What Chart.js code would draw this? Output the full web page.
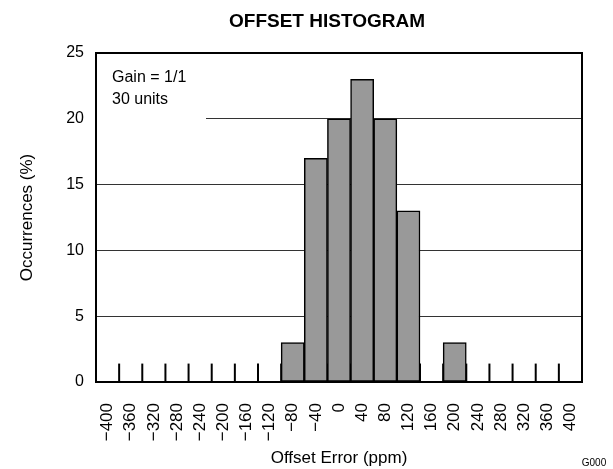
<!DOCTYPE html>
<html lang="en">

<head>
  <meta charset="UTF-8">
  <title>Offset Histogram</title>

  <!-- Chart.js for rendering the histogram -->
  <script src="https://cdn.jsdelivr.net/npm/chart.js"></script>

  <style>
    body {
      margin: 0;
      background: #fff;
    }

    canvas {
      display: block;
    }
  </style>
</head>

<body>
  <canvas id="histChart" width="613" height="469"></canvas>

  <script>
    // Bins (ppm) and occurrences (%)
    const offsetBins = ['−400', '−360', '−320', '−280', '−240', '−200', '−160', '−120', '−80', '−40',
      '0', '40', '80', '120', '160', '200', '240', '280', '320', '360', '400'];
    const occurrences = [0, 0, 0, 0, 0, 0, 0, 0, 3, 17, 20, 23, 20, 13, 0, 3, 0, 0, 0, 0, 0];
    const yTicks = [0, 5, 10, 15, 20, 25];
    const noteLines = ['Gain = 1/1', '30 units'];

    const FONT = "'Liberation Sans', Arial, sans-serif";
    const binMarkHeight = 1.4; // short marks at bin edges, in % units

    // Frame, bin marks, note box and titles
    const extras = {
      id: 'extras',
      beforeDatasetsDraw(chart) {
        const { ctx, chartArea, scales: { x, y } } = chart;
        ctx.save();

        // white box behind the note hides the grid line under it
        ctx.fillStyle = '#fff';
        ctx.fillRect(chartArea.left + 1, chartArea.top + 1, 109, 80);

        // small marks at each bin boundary
        ctx.strokeStyle = '#000';
        ctx.lineWidth = 2;
        for (let i = 1; i < offsetBins.length; i++) {
          const px = (x.getPixelForValue(i - 1) + x.getPixelForValue(i)) / 2;
          ctx.beginPath();
          ctx.moveTo(px, y.getPixelForValue(0));
          ctx.lineTo(px, y.getPixelForValue(binMarkHeight));
          ctx.stroke();
        }

        // note text
        ctx.fillStyle = '#000';
        ctx.font = '16px ' + FONT;
        ctx.textAlign = 'left';
        ctx.textBaseline = 'alphabetic';
        noteLines.forEach((t, i) => ctx.fillText(t, chartArea.left + 16, chartArea.top + 29 + i * 22));
        ctx.restore();
      },
      afterDraw(chart) {
        const { ctx, chartArea } = chart;
        ctx.save();
        ctx.strokeStyle = '#000';
        ctx.lineWidth = 2;
        ctx.strokeRect(chartArea.left, chartArea.top, chartArea.right - chartArea.left, chartArea.bottom - chartArea.top);

        ctx.fillStyle = '#000';
        ctx.textAlign = 'center';
        ctx.textBaseline = 'alphabetic';
        ctx.font = 'bold 19px ' + FONT;
        ctx.fillText('OFFSET HISTOGRAM', 327, 27);

        ctx.font = '10px ' + FONT;
        ctx.fillText('G000', 594, 466);
        ctx.restore();
      }
    };

    const ctx = document.getElementById('histChart').getContext('2d');

    new Chart(ctx, {
      type: 'bar',
      data: {
        labels: offsetBins,
        datasets: [{
          data: occurrences,
          backgroundColor: '#999999',
          borderColor: '#000',
          borderWidth: 1.5,
          borderSkipped: false,
          categoryPercentage: 1,
          barPercentage: 1
        }]
      },
      options: {
        responsive: false,
        animation: false,
        layout: {
          padding: { top: 53, right: 31, bottom: 0, left: 0 }
        },
        plugins: {
          legend: { display: false },
          tooltip: { enabled: false }
        },
        scales: {
          x: {
            offset: true,
            grid: { display: false },
            border: { display: false },
            ticks: {
              autoSkip: false,
              minRotation: 90,
              maxRotation: 90,
              padding: 13,
              color: '#000',
              font: { family: FONT, size: 17 }
            },
            title: {
              display: true,
              text: 'Offset Error (ppm)',
              color: '#000',
              font: { family: FONT, size: 17 },
              padding: { top: 0, bottom: 0 }
            },
            afterFit: s => { s.height = 87; }
          },
          y: {
            min: 0,
            max: 25,
            afterBuildTicks: s => { s.ticks = yTicks.map(v => ({ value: v })); },
            grid: {
              drawTicks: false,
              lineWidth: 1,
              color: c => (c.tick.value === 0 || c.tick.value === 25) ? 'rgba(0,0,0,0)' : '#333'
            },
            border: { display: false },
            ticks: {
              padding: 12,
              color: '#000',
              font: { family: FONT, size: 16 }
            },
            title: {
              display: true,
              text: 'Occurrences (%)',
              color: '#000',
              font: { family: FONT, size: 17 },
              padding: { top: 17, bottom: 0 }
            },
            afterFit: s => { s.width = 96; }
          }
        }
      },
      plugins: [extras]
    });
  </script>

</body>

</html>
